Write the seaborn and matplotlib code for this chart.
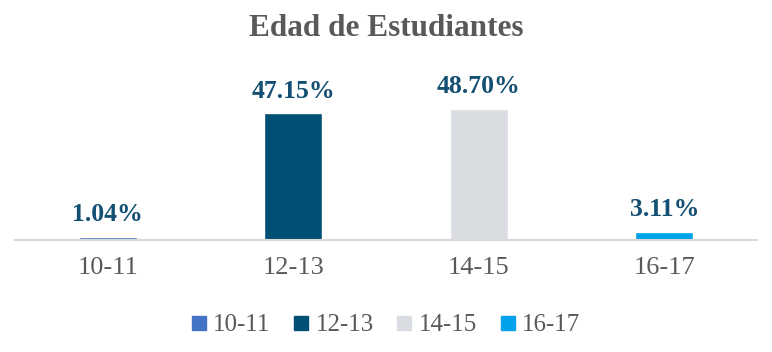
import matplotlib
matplotlib.use('Agg')
import matplotlib.pyplot as plt
import seaborn as sns
import pandas as pd
from matplotlib.lines import Line2D

categorias = ['10-11', '12-13', '14-15', '16-17']
porcentajes = [1.04, 47.15, 48.70, 3.11]
etiquetas = ['1.04%', '47.15%', '48.70%', '3.11%']
colores = ['#4472C4', '#004F74', '#D9DCE0', '#00A3E9']

sns.set_theme(style='white')
plt.rcParams['font.family'] = ['Liberation Serif', 'DejaVu Serif']

df = pd.DataFrame({'edad': categorias, 'pct': porcentajes})

fig = plt.figure(figsize=(7.72, 3.52), dpi=100)
ax = fig.add_axes([15 / 772, 112 / 352, 742 / 772, 180 / 352])
sns.barplot(data=df, x='edad', y='pct', hue='edad', palette=colores,
            width=0.31, dodge=False, legend=False, ax=ax, saturation=1)

for i, (v, t) in enumerate(zip(porcentajes, etiquetas)):
    ax.text(i, v + 4, t, ha='center', va='bottom', fontsize=18.5,
            fontweight='bold', color='#134F73')

ax.set_xlim(-0.5, 3.5)
ax.set_ylim(0, 67)
ax.set_xlabel('')
ax.set_ylabel('')
ax.set_yticks([])
for s in ['top', 'left', 'right']:
    ax.spines[s].set_visible(False)
ax.spines['bottom'].set_color('#D9D9D9')
ax.spines['bottom'].set_linewidth(1.5)
ax.tick_params(axis='x', length=0, labelsize=19, labelcolor='#595959', pad=12)

fig.text(0.5, 1 - 28 / 352, 'Edad de Estudiantes', ha='center', va='center',
         fontsize=22.5, fontweight='bold', color='#595959')

handles = [Line2D([0], [0], marker='s', linestyle='', markersize=10,
                  markerfacecolor=c, markeredgecolor=c) for c in colores]
fig.legend(handles, categorias, loc='center', bbox_to_anchor=(0.5, 1 - 325 / 352),
           ncol=4, frameon=False, fontsize=18, labelcolor='#595959',
           handletextpad=0.3, columnspacing=0.95, handlelength=0.55)

fig.savefig('out.png', dpi=100)
